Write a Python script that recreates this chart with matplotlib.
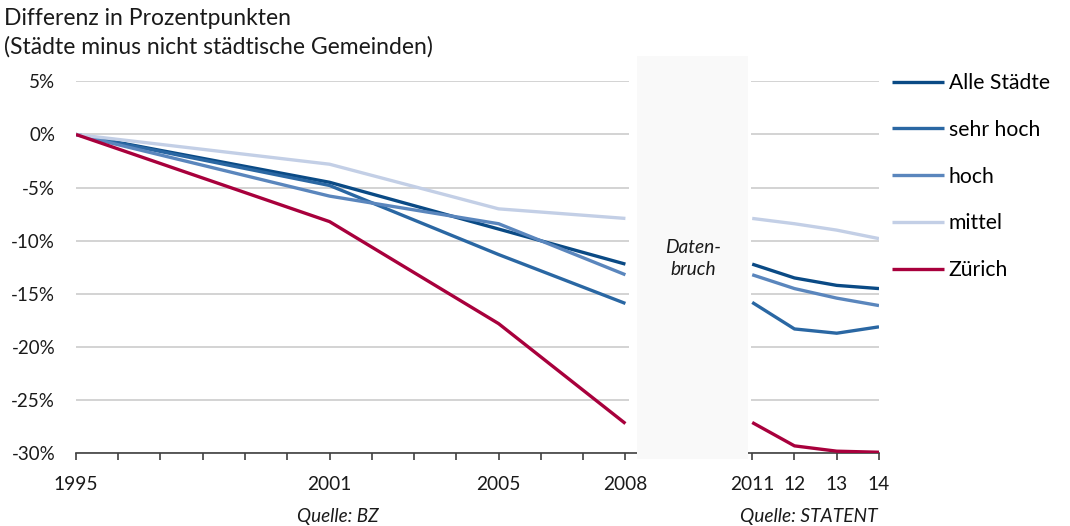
import numpy as np
import matplotlib
matplotlib.use("Agg")
import matplotlib.pyplot as plt
from matplotlib.patches import Rectangle

plt.rcParams['font.family'] = ['Lato', 'DejaVu Sans']

years = [1995, 2001, 2005, 2008, 2009, 2010, 2011, 2012, 2013, 2014]
nan = np.nan
alle = [0.0, -4.5, -8.9, -12.2, nan, nan, -12.2, -13.5, -14.2, -14.5]
sehr_hoch = [0.0, -4.8, -11.3, -15.9, nan, nan, -15.8, -18.3, -18.7, -18.1]
hoch = [0.0, -5.8, -8.4, -13.2, nan, nan, -13.2, -14.5, -15.4, -16.1]
mittel = [0.0, -2.8, -7.0, -7.9, nan, nan, -7.9, -8.4, -9.0, -9.8]
zuerich = [0.0, -8.2, -17.8, -27.2, nan, nan, -27.1, -29.3, -29.8, -29.9]

series_names = ["Alle Städte", "sehr hoch", "hoch", "mittel", "Zürich"]
series_vals = [alle, sehr_hoch, hoch, mittel, zuerich]
colors = ["#0A4A85", "#2A67A3", "#5A86BD", "#C3CFE6", "#A8003C"]

tick_years = [y for y in range(1995, 2015) if y not in (2009, 2010)]
label_map = {1995: "1995", 2001: "2001", 2005: "2005", 2008: "2008",
             2011: "2011", 2012: "12", 2013: "13", 2014: "14"}
yticks = [5, 0, -5, -10, -15, -20, -25, -30]

fig = plt.figure(figsize=(10.7, 5.26), dpi=100)
ax = fig.add_axes([0.0710, 0.1382, 0.8215 - 0.0710, 0.8454 - 0.1382])

for name, vals, c in zip(series_names, series_vals, colors):
    ax.plot(years, vals, color=c, lw=2.4, label=name, solid_capstyle='butt', zorder=3)

ax.set_xlim(1995, 2014)
ax.set_ylim(-30, 5)
ax.set_yticks(yticks)
ax.set_yticklabels([f"{v}%" for v in yticks], fontsize=13.5, color="#1a1a1a")
ax.yaxis.grid(True, color="#D0D0D0", lw=1.3, zorder=0)
ax.set_axisbelow(True)
ax.tick_params(axis='y', length=0, pad=15)
ax.set_xticks(tick_years)
ax.set_xticklabels([label_map.get(y, "") for y in tick_years], fontsize=13.8, color="#1a1a1a")
ax.tick_params(axis='x', direction='out', length=5, width=1.2, color="#404040", pad=11)
for s in ['top', 'right', 'left']:
    ax.spines[s].set_visible(False)
ax.spines['bottom'].set_color("#404040")
ax.spines['bottom'].set_linewidth(1.2)

# data break: white gap then light band
ax.add_patch(Rectangle((2008.08, -30.6), 2010.96 - 2008.08, 37.0, facecolor="white",
                       edgecolor="none", zorder=2.5, clip_on=False))
ax.add_patch(Rectangle((2008.27, -30.55), 2010.90 - 2008.27, 37.95, facecolor="#F9F9F9",
                       edgecolor="none", zorder=2.6, clip_on=False))
ax.text(2009.6, -11.65, "Daten-\nbruch", ha='center', va='center', fontsize=13.8,
        style='italic', linespacing=1.32, zorder=4, color="#1a1a1a")

fig.text(0.004, 0.965, "Differenz in Prozentpunkten", fontsize=16.5, va='center', color="#1a1a1a")
fig.text(0.004, 0.911, "(Städte minus nicht städtische Gemeinden)", fontsize=16.5, va='center', color="#1a1a1a")

fig.text(0.316, 0.019, "Quelle: BZ", fontsize=13.6, style='italic', ha='center', va='center', color="#1a1a1a")
fig.text(0.756, 0.019, "Quelle: STATENT", fontsize=13.8, style='italic', ha='center', va='center', color="#1a1a1a")

leg = ax.legend(loc='upper left', bbox_to_anchor=(0.8336, 0.8612), bbox_transform=fig.transFigure,
                frameon=False, fontsize=15.2, handlelength=2.45, handletextpad=0.24,
                labelspacing=1.27, borderaxespad=0, borderpad=0)

fig.savefig("out.png", dpi=100)
